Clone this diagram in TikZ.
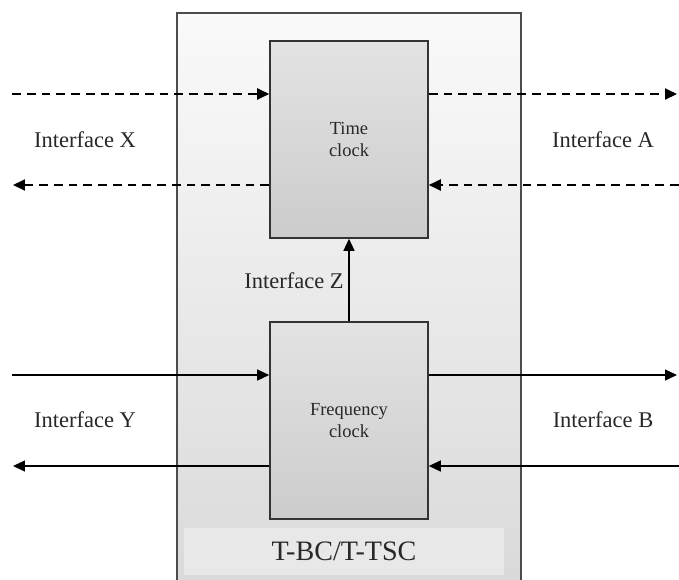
\documentclass[tikz,border=0pt]{standalone}
\usepackage{fontspec}
\setmainfont{Liberation Serif}
\usetikzlibrary{arrows.meta,positioning}
\definecolor{inkgray}{RGB}{40,40,40}

\begin{document}
\begin{tikzpicture}[x=0.02cm, y=-0.02cm,
  shellbox/.style={draw=black!70, line width=0.8pt, top color=black!2, bottom color=black!15,
      minimum width=6.88cm, minimum height=11.74cm, inner sep=0pt},
  clockbox/.style={draw=black!80, line width=0.9pt, top color=black!11, bottom color=black!20,
      minimum width=3.16cm, minimum height=3.94cm, font=\fontsize{10.5}{12.5}\selectfont,
      align=center, text=inkgray},
  tagbox/.style={fill=black!9, minimum width=6.4cm, minimum height=0.94cm,
      font=\fontsize{16}{18}\selectfont, text=inkgray},
  iflabel/.style={font=\fontsize{12.8}{15}\selectfont, text=inkgray},
  timeflow/.style={dash pattern=on 5pt off 3.4pt, line width=1.1pt, -{Triangle[length=2.4mm,width=2.2mm]}},
  freqflow/.style={line width=0.7pt, -{Triangle[length=2.4mm,width=2.2mm]}}]
\clip (0,0) rectangle (679,579);
% enclosing equipment
\node[shellbox] (shell) at (349,306.5) {};
\node[tagbox] (tag) at (344,551.5) {T-BC/T-TSC};
% clocks
\node[clockbox] (tc) at (349,139.5) {Time\\clock};
\node[clockbox] (fc) at (349,420.5) {Frequency\\clock};
% free ends of the interfaces
\coordinate (xin) at (12,94);
\coordinate (xout) at (13,185);
\coordinate (aout) at (677,94);
\coordinate (ain) at (679,185);
\coordinate (yin) at (12,375);
\coordinate (yout) at (13,466);
\coordinate (bout) at (677,375);
\coordinate (bin) at (679,466);
% time interfaces
\draw[timeflow] (xin) -- (tc.west |- xin);
\draw[timeflow] (tc.west |- xout) -- (xout);
\draw[timeflow] (tc.east |- aout) -- (aout);
\draw[timeflow] (ain) -- (tc.east |- ain);
% frequency interfaces
\draw[freqflow] (yin) -- (fc.west |- yin);
\draw[freqflow] (fc.west |- yout) -- (yout);
\draw[freqflow] (fc.east |- bout) -- (bout);
\draw[freqflow] (bin) -- (fc.east |- bin);
\draw[freqflow] (fc.north) -- (tc.south);
% labels
\node[iflabel] (lx) at (85,140) {Interface X};
\node[iflabel] (la) at (603,140) {Interface A};
\node[iflabel] (lz) at (294,281) {Interface Z};
\node[iflabel] (ly) at (85,420) {Interface Y};
\node[iflabel] (lb) at (603,420) {Interface B};
\end{tikzpicture}
\end{document}
